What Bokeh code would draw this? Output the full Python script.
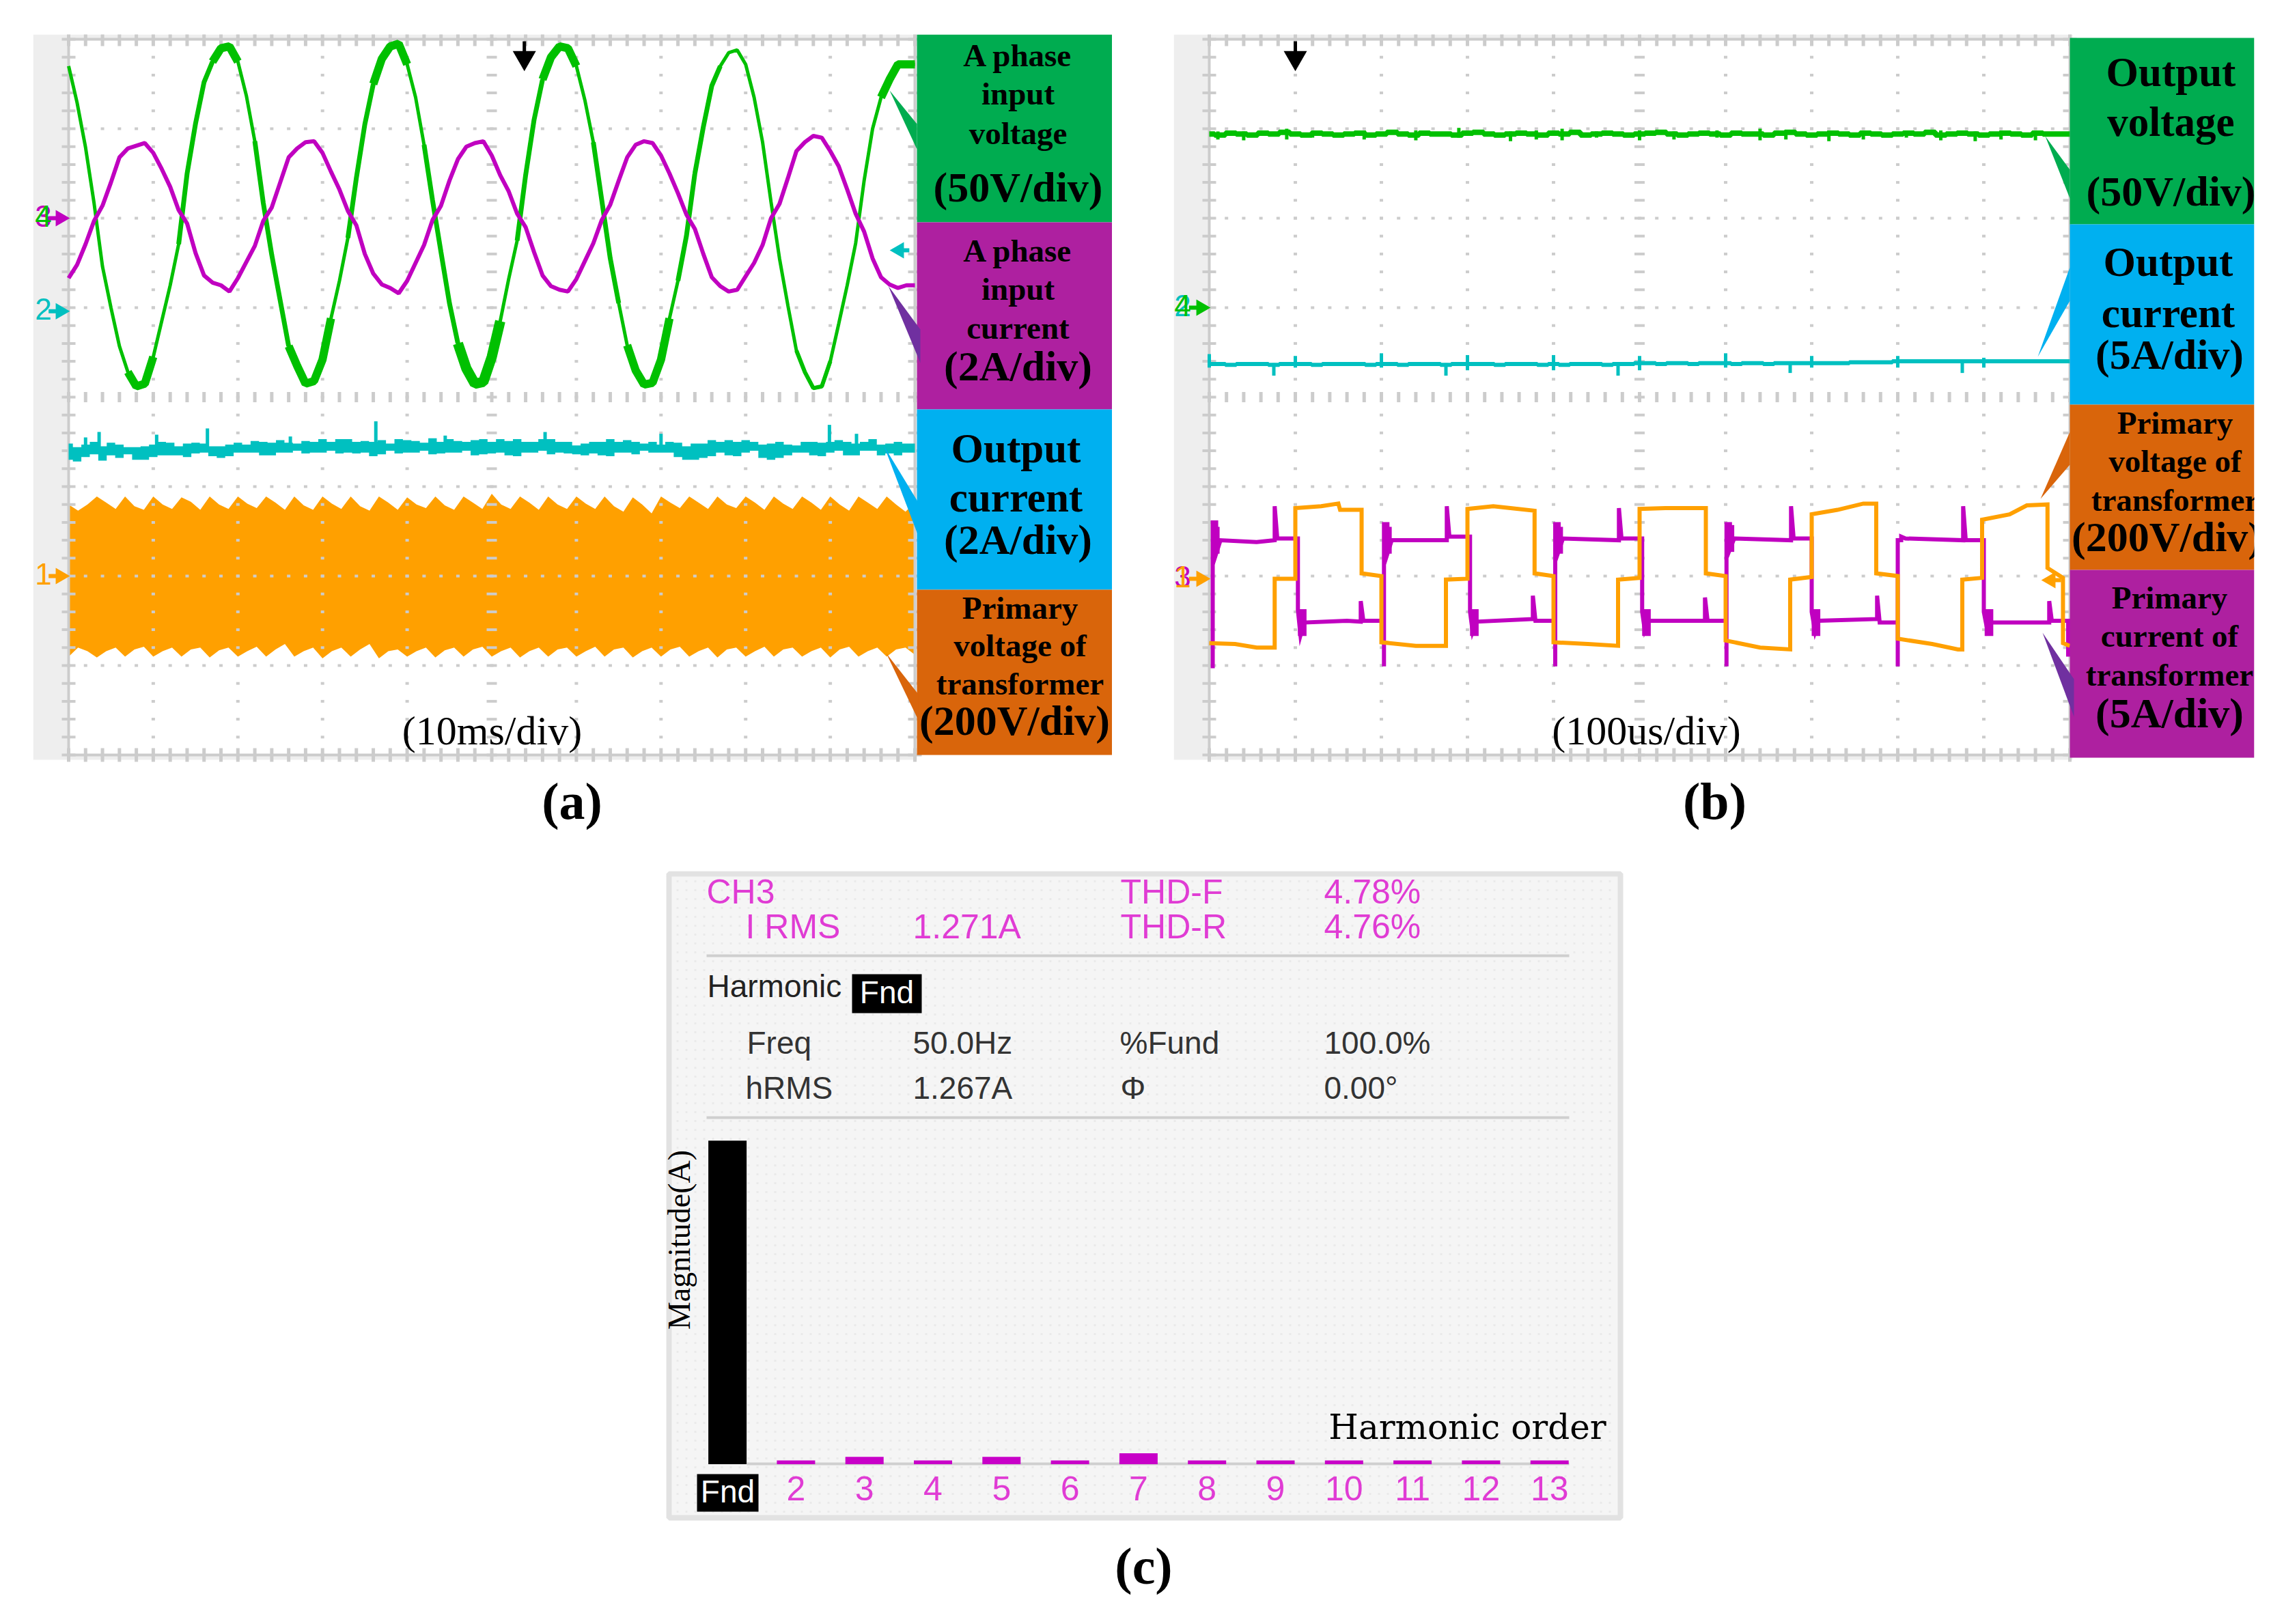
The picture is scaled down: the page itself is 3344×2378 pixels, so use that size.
import numpy as np
from bokeh.plotting import figure
from bokeh.layouts import column, row
from bokeh.models import Range1d, Spacer
from bokeh.core.properties import value
from bokeh.embed import file_html
from bokeh.resources import INLINE

# ---------- panel (a) traces, in scope divisions ----------
t_step_a = 0.1
green_a = [3.70,3.29,2.79,2.17,1.46,1.00,0.57,0.28,0.12,0.15,
 0.45,0.85,1.25,1.71,2.50,3.06,3.52,3.75,3.90,3.92,
 3.75,3.37,2.86,2.17,1.59,1.08,0.57,0.35,0.15,0.18,
 0.42,0.88,1.30,1.78,2.45,3.05,3.50,3.78,3.92,3.95,
 3.72,3.35,2.82,2.20,1.62,1.05,0.60,0.32,0.15,0.17,
 0.45,0.85,1.32,1.75,2.48,3.10,3.55,3.80,3.92,3.90,
 3.70,3.32,2.85,2.20,1.55,1.05,0.58,0.30,0.14,0.16,
 0.42,0.88,1.30,1.80,2.50,3.02,3.48,3.70,3.85,3.88,
 3.72,3.35,2.85,2.18,1.55,1.02,0.52,0.28,0.10,0.12,
 0.40,0.82,1.25,1.72,2.42,3.00,3.35,3.55,3.72,3.72,3.72]
purple_a = [1.33,1.48,1.71,1.97,2.14,2.40,2.68,2.78,2.81,2.84,
 2.73,2.55,2.35,2.09,1.94,1.61,1.36,1.28,1.25,1.18,
 1.33,1.51,1.69,1.97,2.12,2.40,2.68,2.78,2.85,2.86,
 2.73,2.52,2.32,2.08,1.92,1.60,1.38,1.26,1.22,1.16,
 1.30,1.50,1.70,1.98,2.14,2.42,2.66,2.80,2.84,2.86,
 2.70,2.48,2.30,2.05,1.90,1.62,1.36,1.24,1.20,1.18,
 1.32,1.52,1.72,1.98,2.15,2.42,2.68,2.82,2.86,2.84,
 2.70,2.50,2.28,2.04,1.88,1.60,1.34,1.24,1.18,1.20,
 1.35,1.50,1.70,2.00,2.16,2.45,2.75,2.85,2.92,2.90,
 2.75,2.58,2.32,2.05,1.85,1.55,1.34,1.26,1.22,1.25,1.25]
# index ranges of the green trace that are drawn thicker (noisy parts)
thick_from = [17,36,56,96,7,26,46,66,13,33,53,22,42,62,72,74,86]
thick_to = [20,40,60,100,10,31,51,71,17,36,56,26,46,65,74,77,90]
thick_width = [12,12,12,12,12,12,15,12,7,7,7,7,7,7,7,7,6]

cyan_a_hi = [-0.52,-0.56,-0.53,-0.50,-0.55,-0.51,-0.53,-0.56,-0.56,-0.55,
 -0.53,-0.50,-0.51,-0.55,-0.52,-0.51,-0.52,-0.55,-0.55,-0.53,
 -0.51,-0.53,-0.49,-0.50,-0.51,-0.48,-0.51,-0.52,-0.49,-0.50,
 -0.47,-0.50,-0.47,-0.47,-0.50,-0.49,-0.50,-0.48,-0.52,-0.47,
 -0.48,-0.49,-0.51,-0.46,-0.50,-0.47,-0.49,-0.50,-0.48,-0.47,
 -0.50,-0.47,-0.49,-0.47,-0.50,-0.50,-0.47,-0.47,-0.50,-0.50,
 -0.54,-0.52,-0.50,-0.50,-0.47,-0.50,-0.48,-0.50,-0.52,-0.50,
 -0.53,-0.50,-0.51,-0.55,-0.52,-0.52,-0.48,-0.50,-0.48,-0.50,
 -0.48,-0.50,-0.53,-0.52,-0.50,-0.53,-0.54,-0.50,-0.50,-0.51,
 -0.50,-0.48,-0.50,-0.52,-0.50,-0.47,-0.53,-0.52,-0.50,-0.52,-0.52]
cyan_a_lo = [-0.70,-0.72,-0.67,-0.64,-0.71,-0.65,-0.68,-0.64,-0.70,-0.70,
 -0.67,-0.65,-0.65,-0.65,-0.67,-0.63,-0.62,-0.66,-0.68,-0.66,
 -0.62,-0.62,-0.62,-0.65,-0.65,-0.62,-0.62,-0.60,-0.63,-0.62,
 -0.62,-0.60,-0.63,-0.62,-0.63,-0.62,-0.66,-0.64,-0.60,-0.63,
 -0.62,-0.62,-0.60,-0.64,-0.63,-0.62,-0.62,-0.60,-0.65,-0.64,
 -0.63,-0.62,-0.65,-0.66,-0.62,-0.62,-0.60,-0.64,-0.62,-0.63,
 -0.64,-0.65,-0.63,-0.65,-0.66,-0.62,-0.62,-0.64,-0.60,-0.62,
 -0.62,-0.62,-0.67,-0.70,-0.70,-0.68,-0.66,-0.62,-0.65,-0.66,
 -0.62,-0.60,-0.68,-0.70,-0.68,-0.65,-0.62,-0.62,-0.65,-0.66,
 -0.62,-0.60,-0.65,-0.65,-0.60,-0.60,-0.65,-0.63,-0.65,-0.62,-0.62]
cyan_spike_t = [0.36,1.04,1.64,3.63,5.63,7.00,8.99,9.31,0.20,2.62,4.45]
cyan_spike_y = [-0.39,-0.42,-0.35,-0.27,-0.39,-0.41,-0.31,-0.41,-0.45,-0.44,-0.43]
orange_top = [-1.20,-1.27,-1.20,
 -1.11,-1.18,-1.25,-1.11,-1.22,-1.26,-1.11,-1.20,-1.25,-1.12,-1.17,-1.26,-1.11,-1.20,-1.25,
 -1.11,-1.19,-1.24,-1.11,-1.18,-1.26,-1.11,-1.21,-1.26,-1.11,-1.19,-1.25,-1.11,-1.22,-1.27,
 -1.11,-1.18,-1.26,-1.12,-1.20,-1.24,-1.11,-1.21,-1.26,-1.11,-1.18,-1.25,-1.08,-1.20,-1.25,
 -1.11,-1.18,-1.26,-1.11,-1.20,-1.25,-1.11,-1.19,-1.25,-1.11,-1.22,-1.28,-1.12,-1.20,-1.30,
 -1.11,-1.18,-1.24,-1.11,-1.18,-1.25,-1.11,-1.20,-1.24,-1.11,-1.18,-1.26,-1.11,-1.19,-1.25,
 -1.11,-1.18,-1.26,-1.11,-1.20,-1.27,-1.11,-1.18,-1.25,-1.11,-1.20,-1.28,-1.18]
orange_bot = [-2.90,-2.80,-2.84,
 -2.91,-2.84,-2.80,-2.90,-2.82,-2.79,-2.90,-2.84,-2.80,-2.90,-2.82,-2.80,-2.91,-2.83,-2.80,
 -2.90,-2.84,-2.79,-2.90,-2.82,-2.76,-2.90,-2.84,-2.80,-2.92,-2.84,-2.80,-2.90,-2.82,-2.76,
 -2.92,-2.84,-2.82,-2.90,-2.84,-2.80,-2.91,-2.83,-2.80,-2.90,-2.82,-2.79,-2.90,-2.84,-2.80,
 -2.91,-2.84,-2.80,-2.90,-2.82,-2.80,-2.90,-2.84,-2.79,-2.90,-2.82,-2.80,-2.91,-2.84,-2.80,
 -2.90,-2.82,-2.79,-2.90,-2.84,-2.80,-2.91,-2.82,-2.80,-2.90,-2.84,-2.79,-2.90,-2.82,-2.80,
 -2.90,-2.84,-2.80,-2.91,-2.82,-2.79,-2.90,-2.84,-2.80,-2.90,-2.82,-2.80,-2.88]

# ---------- panel (b) traces ----------
b_step = 0.125
green_b = [2.94,2.93,2.95,2.94,2.93,2.95,2.94,2.96,2.94,2.93,2.95,2.94,2.93,2.94,2.95,2.93,
 2.94,2.96,2.94,2.93,2.95,2.94,2.94,2.93,2.95,2.96,2.94,2.93,2.94,2.95,2.94,2.93,
 2.95,2.94,2.96,2.93,2.94,2.95,2.94,2.93,2.94,2.95,2.96,2.94,2.93,2.94,2.95,2.94,
 2.93,2.95,2.94,2.94,2.93,2.95,2.96,2.94,2.93,2.94,2.95,2.94,2.93,2.95,2.94,2.93,
 2.94,2.95,2.94,2.96,2.93,2.94,2.95,2.94,2.93,2.94,2.95,2.94,2.93,2.95,2.94,2.94,2.94]
green_b_spike_t = [0.10,0.40,0.90,1.20,1.80,2.40,2.90,3.50,3.80,4.10,4.50,5.00,5.40,5.90,6.40,6.70,7.20,7.60,8.10,8.50,8.90,9.20,9.60]
green_b_spike_lo = [2.88,2.87,2.88,2.90,2.88,2.87,2.90,2.86,2.88,2.87,2.90,2.87,2.88,2.90,2.87,2.88,2.86,2.88,2.90,2.87,2.86,2.88,2.87]
green_b_spike_hi = [2.97,2.97,3.00,2.97,2.98,2.98,3.01,2.97,2.98,3.00,2.97,2.98,2.97,2.98,3.00,2.97,2.98,2.97,2.97,2.98,2.97,2.98,2.97]
cyan_b = [0.37,0.37,0.36,0.37,0.37,0.37,0.36,0.37,0.37,0.37,0.36,0.37,0.37,0.37,0.37,0.36,
 0.37,0.37,0.36,0.37,0.37,0.37,0.36,0.37,0.37,0.37,0.37,0.36,0.37,0.37,0.37,0.36,
 0.37,0.36,0.37,0.37,0.37,0.36,0.37,0.37,0.38,0.38,0.37,0.38,0.38,0.37,0.38,0.38,
 0.38,0.37,0.38,0.38,0.37,0.38,0.38,0.38,0.38,0.38,0.38,0.38,0.39,0.39,0.39,0.39,
 0.40,0.40,0.40,0.40,0.40,0.40,0.40,0.40,0.40,0.40,0.40,0.40,0.40,0.40,0.40,0.40,0.40]
cyan_b_spike_t = [0.00,1.00,2.00,3.00,4.00,5.00,6.00,7.00,8.00,9.00,0.75,2.75,4.75,6.75,8.75]
cyan_b_spike_lo = [0.33,0.33,0.33,0.30,0.30,0.30,0.33,0.33,0.33,0.33,0.24,0.24,0.24,0.27,0.27]
cyan_b_spike_hi = [0.48,0.46,0.49,0.47,0.47,0.46,0.49,0.46,0.46,0.44,0.38,0.38,0.38,0.38,0.40]

orange_b_t = [0.00,0.30,0.55,0.76,0.76,1.00,1.00,1.30,1.50,1.52,1.77,1.77,2.00,2.00,2.40,2.75,2.75,3.00,
 3.00,3.30,3.50,3.78,3.78,4.00,4.00,4.40,4.75,4.75,5.00,5.00,5.30,5.70,5.77,5.77,6.00,6.00,
 6.40,6.75,6.75,7.00,7.00,7.30,7.60,7.75,7.75,8.00,8.00,8.40,8.70,8.75,8.75,8.98,8.98,9.30,
 9.50,9.74,9.74,9.92,9.92,10.00]
orange_b_y = [-2.75,-2.76,-2.80,-2.80,-2.03,-2.03,-1.24,-1.22,-1.19,-1.26,-1.26,-1.97,-2.00,-2.74,-2.78,-2.78,-2.04,-2.03,
 -1.25,-1.22,-1.24,-1.27,-1.97,-2.00,-2.74,-2.76,-2.78,-2.04,-2.02,-1.25,-1.24,-1.24,-1.24,-1.97,-2.00,
 -2.72,-2.80,-2.82,-2.04,-2.01,-1.31,-1.26,-1.19,-1.19,-1.97,-2.00,-2.70,-2.76,-2.82,-2.82,-2.04,-2.02,
 -1.37,-1.31,-1.21,-1.20,-1.91,-2.02,-2.75,-2.78]
purple_b_t = [0.04,0.04,0.08,0.08,0.13,0.55,0.76,0.76,0.79,1.03,1.03,1.06,1.10,1.60,1.76,1.76,1.79,2.03,
 2.03,2.03,2.07,2.07,2.12,2.76,2.76,2.79,3.03,3.03,3.06,3.10,3.76,3.76,3.79,4.02,
 4.02,4.02,4.06,4.06,4.11,4.76,4.76,4.79,5.03,5.03,5.06,5.10,5.76,5.76,5.79,6.01,
 6.01,6.01,6.05,6.05,6.10,6.76,6.76,6.79,7.00,7.00,7.04,7.08,7.76,7.76,7.79,8.00,
 8.00,8.00,8.04,8.04,8.09,8.76,8.76,8.79,9.00,9.00,9.04,9.08,9.76,9.76,9.79,9.98,9.98]
purple_b_y = [-3.03,-1.40,-1.40,-1.75,-1.60,-1.62,-1.60,-1.22,-1.58,-1.58,-2.38,-2.66,-2.52,-2.50,-2.51,-2.28,-2.50,-2.50,
 -3.01,-1.42,-1.42,-1.75,-1.60,-1.60,-1.22,-1.56,-1.56,-2.40,-2.62,-2.51,-2.48,-2.22,-2.50,-2.50,
 -3.01,-1.42,-1.42,-1.72,-1.58,-1.60,-1.24,-1.58,-1.58,-2.40,-2.60,-2.50,-2.50,-2.24,-2.50,-2.50,
 -3.01,-1.42,-1.42,-1.70,-1.58,-1.60,-1.22,-1.58,-1.58,-2.40,-2.62,-2.50,-2.48,-2.22,-2.52,-2.52,
 -3.01,-1.60,-1.60,-1.56,-1.58,-1.60,-1.22,-1.60,-1.60,-2.40,-2.60,-2.52,-2.52,-2.28,-2.50,-2.50,-2.90]
# short thick blobs on the current trace just after each rising / falling edge
purple_b_thick_t = [0.07,2.07,4.06,6.05,1.08,3.08,5.08,7.05,9.06]
purple_b_thick_y = [-1.60,-1.60,-1.60,-1.58,-2.52,-2.52,-2.52,-2.52,-2.52]

# ---------- panel (c) harmonic spectrum ----------
harm_labels = ["Fnd","2","3","4","5","6","7","8","9","10","11","12","13"]
harm_order = [1,2,3,4,5,6,7,8,9,10,11,12,13]
harm_amps = [1.267,0.015,0.029,0.015,0.029,0.015,0.043,0.015,0.015,0.015,0.015,0.015,0.015]

# ---------- colours and callouts ----------
C_GREEN, C_PURPLE, C_CYAN, C_ORANGE = "#00c000", "#c000c0", "#00c0c0", "#ffa000"
C_GRID = "#cccccc"
BOX_GREEN, BOX_PURPLE, BOX_BLUE, BOX_ORANGE = "#00ac50", "#ae20a0", "#00b0f0", "#d9650b"
SERIF = value("Liberation Serif")
SANS = value("Liberation Sans")


def make_panel(px_left, px_right, px_top, px_bottom, x0, sx, y0, sy):
    p = figure(width=px_right - px_left, height=px_bottom - px_top,
               x_range=Range1d((px_left - x0) / sx, (px_right - x0) / sx),
               y_range=Range1d((y0 - px_bottom) / sy, (y0 - px_top) / sy),
               output_backend="svg", toolbar_location=None,
               min_border=0, min_border_left=0, min_border_right=0,
               min_border_top=0, min_border_bottom=0,
               outline_line_color=None, background_fill_color="white")
    p.axis.visible = False
    p.grid.visible = False
    ax = lambda v: (np.asarray(v, dtype=float) - x0) / sx
    ay = lambda v: (y0 - np.asarray(v, dtype=float)) / sy
    return p, ax, ay


def text(p, xs, ys, texts, size, color="black", font=SERIF, style="normal",
         align="center", angle=0):
    p.text(x=list(xs), y=list(ys), text=list(texts), text_font=font,
           text_font_size=size, text_font_style=style, text_color=color,
           text_align=align, text_baseline="middle", angle=angle, y_offset=-3)


def scope_frame(p, ax, ay, strip_l, strip_r, strip_t, strip_b):
    p.quad(left=[ax(strip_l)], right=[ax(strip_r)], top=[ay(strip_t)], bottom=[ay(strip_b)],
           fill_color="#eeeeee", line_color=None)
    p.quad(left=[0], right=[10], top=[4], bottom=[-4], fill_color="white", line_color=None)


def scope_grid(p):
    fine_x = np.arange(0, 51) * 0.2
    fine_y = np.arange(0, 41) * 0.2 - 4
    cols = np.arange(1, 10)
    rows = np.arange(-3, 4)
    dx, dy = [], []
    for c in cols:
        if c != 5:
            dx += [c] * len(fine_y)
            dy += list(fine_y)
    for r in rows:
        if r != 0:
            dx += list(fine_x)
            dy += [r] * len(fine_x)
    p.rect(x=dx, y=dy, width=5, height=4, width_units="screen", height_units="screen",
           fill_color=C_GRID, line_color=None)
    # centre axes, and edge ticks
    p.rect(x=[5] * len(fine_y), y=list(fine_y), width=15, height=4, width_units="screen",
           height_units="screen", fill_color=C_GRID, line_color=None)
    p.rect(x=list(fine_x), y=[0] * len(fine_x), width=5, height=15, width_units="screen",
           height_units="screen", fill_color=C_GRID, line_color=None)
    p.rect(x=[0] * len(fine_y) + [10] * len(fine_y), y=list(fine_y) * 2, width=20, height=4,
           width_units="screen", height_units="screen", fill_color=C_GRID, line_color=None)
    p.rect(x=list(fine_x) * 2, y=[4] * len(fine_x) + [-4] * len(fine_x), width=5, height=20,
           width_units="screen", height_units="screen", fill_color=C_GRID, line_color=None)
    p.quad(left=[0], right=[10], top=[4], bottom=[-4], fill_color=None,
           line_color=C_GRID, line_width=4)


def arrow_right(p, x_center, y, color):
    p.segment(x0=[x_center - 0.14], y0=[y], x1=[x_center], y1=[y], line_color=color, line_width=6)
    p.scatter(x=[x_center], y=[y], marker="triangle", size=24, angle=-np.pi / 2,
              fill_color=color, line_color=None)


def arrow_left(p, x_center, y, color):
    p.segment(x0=[x_center], y0=[y], x1=[x_center + 0.12], y1=[y], line_color=color, line_width=6)
    p.scatter(x=[x_center], y=[y], marker="triangle", size=24, angle=np.pi / 2,
              fill_color=color, line_color=None)


def trigger(p, t, ay):
    p.segment(x0=[t], y0=[ay(60)], x1=[t], y1=[ay(80)], line_color="black", line_width=5)
    p.scatter(x=[t], y=[ay(84)], marker="inverted_triangle", size=34, fill_color="black", line_color=None)


def boxes(p, ax, ay, left, right, tops, bots, cols):
    p.quad(left=[ax(left)] * len(tops), right=[ax(right)] * len(tops), top=list(ay(tops)),
           bottom=list(ay(bots)), fill_color=cols, line_color=None)


def callouts(p, ax, ay, tris, cols):
    p.patches(xs=[list(ax([q[0] for q in t])) for t in tris],
              ys=[list(ay([q[1] for q in t])) for t in tris],
              fill_color=cols, line_color=None)


# ================= panel (a) =================
pa, ax, ay = make_panel(48, 1628, 50, 1245, 100, 123.9, 581, 131)
scope_frame(pa, ax, ay, 48, 1342, 50, 1112)
o_t = np.arange(len(orange_top)) * (10 / (len(orange_top) - 1))
pa.varea(x=o_t, y1=orange_bot, y2=orange_top, fill_color=C_ORANGE)
scope_grid(pa)
t_a = np.arange(len(green_a)) * t_step_a
for i0, i1, w in zip(thick_from, thick_to, thick_width):
    pa.line(x=t_a[i0:i1 + 1], y=green_a[i0:i1 + 1], line_color=C_GREEN, line_width=w)
pa.line(x=t_a, y=green_a, line_color=C_GREEN, line_width=5)
pa.line(x=t_a, y=purple_a, line_color=C_PURPLE, line_width=6)
pa.varea_step(x=t_a, y1=cyan_a_lo, y2=cyan_a_hi, step_mode="center", fill_color=C_CYAN)
pa.segment(x0=cyan_spike_t, y0=[-0.6] * len(cyan_spike_t), x1=cyan_spike_t, y1=cyan_spike_y,
           line_color=C_CYAN, line_width=5)
text(pa, [ax(63)], [2.0], ["3"], "44px", C_PURPLE, SANS)
text(pa, [ax(63)], [2.0], ["4"], "44px", C_GREEN, SANS)
arrow_right(pa, ax(88), 2.0, C_PURPLE)
text(pa, [ax(63)], [0.96], ["2"], "44px", C_CYAN, SANS)
arrow_right(pa, ax(88), 0.96, C_CYAN)
text(pa, [ax(63)], [-2.0], ["1"], "44px", C_ORANGE, SANS)
arrow_right(pa, ax(88), -2.0, C_ORANGE)
arrow_left(pa, ax(1316), ay(366), C_CYAN)
trigger(pa, 5.385, ay)

boxes(pa, ax, ay, 1342, 1628, [50, 325, 599, 863], [325, 599, 863, 1105],
      [BOX_GREEN, BOX_PURPLE, BOX_BLUE, BOX_ORANGE])
callouts(pa, ax, ay,
         [[(1302, 132), (1342, 181), (1342, 218)],
          [(1300, 418), (1347, 482), (1347, 531)],
          [(1294, 653), (1345, 737), (1345, 787)],
          [(1297, 956), (1344, 1016), (1344, 1054)]],
         [BOX_GREEN, "#7030a0", BOX_BLUE, BOX_ORANGE])

a_text = ["A phase", "input", "voltage", "Primary", "voltage of", "transformer", "A phase", "input", "current"]
a_text_x = [1490, 1490, 1490, 1493, 1493, 1493, 1490, 1490, 1490]
a_text_y = [83, 139, 197, 892, 947, 1003, 369, 425, 482]
text(pa, ax(a_text_x), ay(a_text_y), a_text, "47px", "black", SERIF, "bold")
text(pa, ax([1487, 1487]), ay([659, 731]), ["Output", "current"], "61px", "black", SERIF, "bold")
text(pa, ax([1490, 1490, 1490, 1485]), ay([276, 538, 792, 1057]),
     ["(50V/div)", "(2A/div)", "(2A/div)", "(200V/div)"], "62px", "black", SERIF, "bold")
text(pa, [ax(720)], [ay(1072)], ["(10ms/div)"], "60px")
text(pa, [ax(837)], [ay(1175)], ["(a)"], "76px", "black", SERIF, "bold")

# ================= panel (b) =================
pb, bx, by = make_panel(1718, 3336, 50, 1245, 1770, 126, 581, 131)
scope_frame(pb, bx, by, 1718, 3034, 50, 1112)
scope_grid(pb)
t_b = np.arange(len(green_b)) * b_step
pb.step(x=t_b, y=green_b, mode="center", line_color=C_GREEN, line_width=8)
pb.segment(x0=green_b_spike_t, y0=green_b_spike_lo, x1=green_b_spike_t, y1=green_b_spike_hi,
           line_color=C_GREEN, line_width=5)
pb.step(x=t_b, y=cyan_b, mode="center", line_color=C_CYAN, line_width=6)
pb.segment(x0=cyan_b_spike_t, y0=cyan_b_spike_lo, x1=cyan_b_spike_t, y1=cyan_b_spike_hi,
           line_color=C_CYAN, line_width=5)
pb.line(x=purple_b_t, y=purple_b_y, line_color=C_PURPLE, line_width=6, line_join="miter")
pb.rect(x=purple_b_thick_t, y=purple_b_thick_y, width=0.1, height=0.3, fill_color=C_PURPLE, line_color=None)
pb.line(x=orange_b_t, y=orange_b_y, line_color=C_ORANGE, line_width=6, line_join="miter")
text(pb, [bx(1731)], [1.0], ["2"], "44px", C_CYAN, SANS)
text(pb, [bx(1731)], [1.0], ["4"], "44px", C_GREEN, SANS)
arrow_right(pb, bx(1758), 1.0, C_GREEN)
text(pb, [bx(1731)], [-2.03], ["3"], "44px", C_PURPLE, SANS)
text(pb, [bx(1731)], [-2.03], ["1"], "44px", C_ORANGE, SANS)
arrow_right(pb, bx(1758), -2.03, C_ORANGE)
arrow_left(pb, bx(3002), by(849), C_ORANGE)
trigger(pb, 1.0, by)

boxes(pb, bx, by, 3030, 3300, [55, 328, 592, 834], [328, 592, 834, 1109],
      [BOX_GREEN, BOX_BLUE, BOX_ORANGE, BOX_PURPLE])
callouts(pb, bx, by,
         [[(2994, 199), (3030, 248), (3030, 290)],
          [(2983, 522), (3030, 391), (3030, 440)],
          [(2987, 730), (3030, 632), (3030, 680)],
          [(2990, 926), (3036, 994), (3036, 1049)]],
         [BOX_GREEN, BOX_BLUE, BOX_ORANGE, "#7030a0"])
b_text = ["Primary", "voltage of", "transformer", "Primary", "current of", "transformer"]
b_text_x = [3184, 3184, 3184, 3176, 3176, 3176]
b_text_y = [621, 677, 734, 877, 933, 990]
text(pb, bx(b_text_x), by(b_text_y), b_text, "47px", "black", SERIF, "bold")
text(pb, bx([3178, 3178, 3174, 3174]), by([108, 181, 386, 461]),
     ["Output", "voltage", "Output", "current"], "61px", "black", SERIF, "bold")
text(pb, bx([3178, 3176, 3172, 3176]), by([282, 521, 788, 1046]),
     ["(50V/div)", "(5A/div)", "(200V/div)", "(5A/div)"], "62px", "black", SERIF, "bold")
# the reference's white page cuts the box texts at the boxes' right edge
pb.quad(left=[bx(3300)], right=[bx(3336)], top=[by(50)], bottom=[by(1245)], fill_color="white", line_color=None)
text(pb, [bx(2410)], [by(1072)], ["(100us/div)"], "60px")
text(pb, [bx(2510)], [by(1175)], ["(b)"], "76px", "black", SERIF, "bold")

# ================= panel (c) =================
PX_K = 100.3
PX_A = 374.0
pc, cx, cy = make_panel(965, 2386, 1275, 2365, 1064.6 - PX_K, PX_K, 2143.5, PX_A)
pc.quad(left=[cx(979)], right=[cx(2372)], top=[cy(1279)], bottom=[cy(2222)],
        fill_color="#f5f5f5", line_color="#e2e2e2", line_width=8)
dot_y = np.arange(1290, 2215, 13)
pc.multi_line(xs=[[cx(990), cx(2362)]] * len(dot_y), ys=[[cy(v), cy(v)] for v in dot_y],
              line_color="#eaeaea", line_width=3, line_dash="3 10")
pc.segment(x0=[cx(1034), cx(1034), cx(1093)], y0=[cy(1399), cy(1636), cy(2143)],
           x1=[cx(2297)] * 3, y1=[cy(1399), cy(1636), cy(2143)], line_color="#cfcfcf", line_width=4)
bar_colors = ["black"] + ["#c800c8"] * 12
pc.vbar(x=harm_order, top=harm_amps, bottom=0, width=56 / PX_K, fill_color=bar_colors, line_color=None)

C_LILAC = "#e03cd4"
text(pc, cx([1034, 1640, 1938]), cy([1308] * 3), ["CH3", "THD-F", "4.78%"], "50px", C_LILAC, SANS, align="left")
text(pc, cx([1091, 1336, 1640, 1938]), cy([1359] * 4), ["I RMS", "1.271A", "THD-R", "4.76%"], "50px", C_LILAC, SANS, align="left")
text(pc, [cx(1035)], [cy(1446)], ["Harmonic"], "46px", "#222222", SANS, align="left")
pc.quad(left=cx([1247, 1020]), right=cx([1349, 1110]), top=cy([1426, 2158]), bottom=cy([1483, 2213]),
        fill_color="black", line_color=None)
text(pc, [cx(1298), cx(1065)], [cy(1455), cy(2186)], ["Fnd", "Fnd"], "46px", "white", SANS)
text(pc, cx([1093, 1336, 1639, 1938]), cy([1529] * 4), ["Freq", "50.0Hz", "%Fund", "100.0%"], "46px", "#333333", SANS, align="left")
text(pc, cx([1091, 1336, 1640, 1938]), cy([1595] * 4), ["hRMS", "1.267A", "Φ", "0.00°"], "46px", "#333333", SANS, align="left")
text(pc, harm_order[1:], [cy(2182)] * 12, harm_labels[1:], "50px", C_LILAC, SANS)
text(pc, [cx(2148)], [cy(2092)], ["Harmonic order"], "50px", "black", value("DejaVu Serif"))
text(pc, [cx(994)], [cy(1818)], ["Magnitude(A)"], "46px", "black", SERIF, angle=np.pi / 2)
text(pc, [cx(1674)], [cy(2295)], ["(c)"], "76px", "black", SERIF, "bold")

layout = column(
    Spacer(height=50),
    row(Spacer(width=48), pa, Spacer(width=90), pb),
    Spacer(height=30),
    row(Spacer(width=965), pc),
)
open("out.html", "w").write(file_html(layout, INLINE))
